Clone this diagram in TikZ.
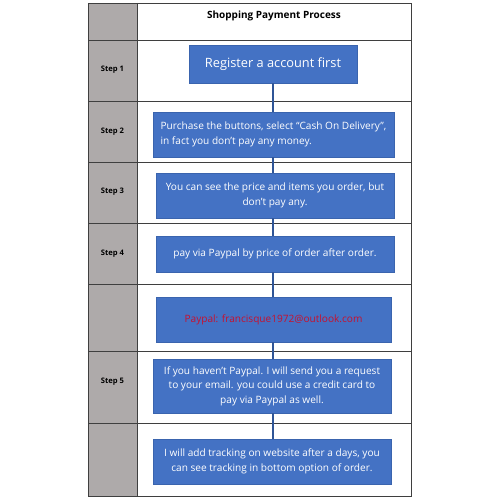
\documentclass[tikz,border=0pt]{standalone}
\usepackage{fontspec}
\setmainfont{Open Sans}
\definecolor{boxblue}{HTML}{4472C4}
\definecolor{boxedge}{HTML}{3A64AE}
\definecolor{linkblue}{HTML}{2F5597}
\definecolor{stepgray}{HTML}{AEAAAA}
\definecolor{gridline}{HTML}{3F3F3F}
\definecolor{mailred}{HTML}{C8102E}
\tikzset{
  grid/.style={draw=gridline, line width=0.9pt},
  flowbox/.style={draw=boxedge, fill=boxblue, text=white, line width=0.6pt, inner sep=2pt,
    font=\fontsize{10.1}{14.5}\selectfont, align=center},
  steplabel/.style={font=\fontsize{7.6}{9}\selectfont\bfseries, inner sep=0pt},
  link/.style={draw=linkblue, line width=1.4pt}
}
\begin{document}
\begin{tikzpicture}[x=1pt,y=-1pt]
\useasboundingbox (0,0) rectangle (500,500);
\fill[stepgray] (88,3) rectangle (137,496);
\draw[grid] (88,3) rectangle (411,496);
\draw[grid] (137,3) -- (137,496);
\foreach \yy in {40,101,162,223,284,351,423} \draw[grid] (88,\yy) -- (411,\yy);

\node[font=\fontsize{10}{12}\selectfont\bfseries] (title) at (274,16) {Shopping Payment Process};

\node[steplabel] (s1) at (112.5,70) {Step 1};
\node[steplabel] (s2) at (112.5,132) {Step 2};
\node[steplabel] (s3) at (112.5,192) {Step 3};
\node[steplabel] (s4) at (112.5,254) {Step 4};
\node[steplabel] (s5) at (112.5,382) {Step 5};

\node[flowbox, minimum width=168pt, minimum height=38pt, font=\fontsize{12.8}{15}\selectfont] (b1) at (273,64) {Register a account first};
\node[flowbox, minimum width=241pt, minimum height=45pt, align=left] (b2) at (273.5,134.5) {Purchase the buttons, select “Cash On Delivery”,\\in fact you don’t pay any money.};
\node[flowbox, minimum width=238pt, minimum height=45pt] (b3) at (275,195.5) {You can see the price and items you order, but\\don’t pay any.};
\node[flowbox, minimum width=238pt, minimum height=36pt] (b4) at (275,254) {pay via Paypal by price of order after order.};
\node[flowbox, minimum width=235pt, minimum height=45pt, text=mailred] (b5) at (273.5,319.5) {Paypal: francisque1972@outlook.com};
\node[flowbox, minimum width=238pt, minimum height=54pt] (b6) at (272,386) {If you haven’t Paypal. I will send you a request\\to your email. you could use a credit card to\\pay via Paypal as well.};
\node[flowbox, minimum width=238pt, minimum height=45pt] (b7) at (272,461.5) {I will add tracking on website after a days, you\\can see tracking in bottom option of order.};

\coordinate (lx) at (273,0);
\draw[link] (b1.south -| lx) -- (b2.north -| lx);
\draw[link] (b2.south -| lx) -- (b3.north -| lx);
\draw[link] (b3.south -| lx) -- (b4.north -| lx);
\draw[link] (b4.south -| lx) -- (b5.north -| lx);
\draw[link] (b5.south -| lx) -- (b6.north -| lx);
\draw[link] (b6.south -| lx) -- (b7.north -| lx);
\end{tikzpicture}
\end{document}
